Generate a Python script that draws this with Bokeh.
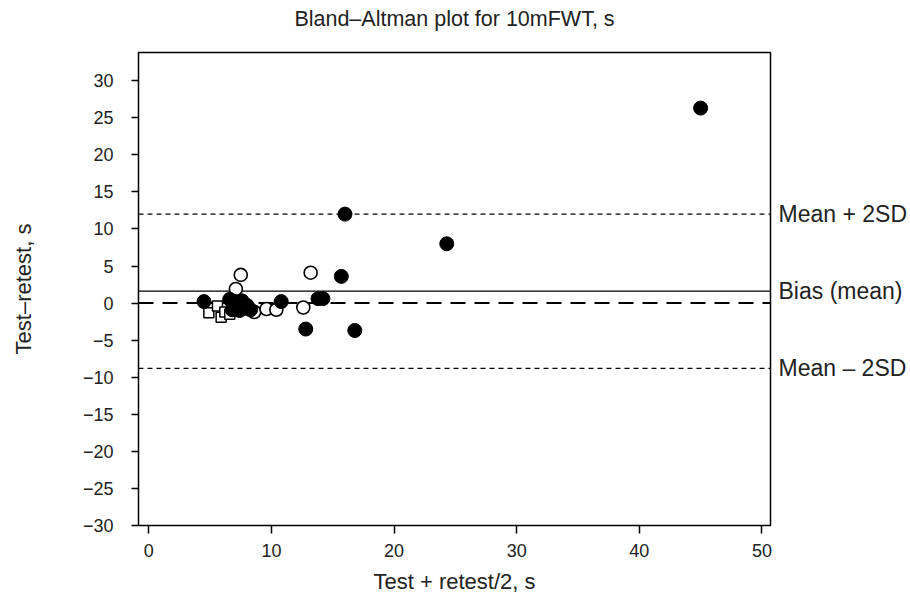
from bokeh.plotting import figure
from bokeh.models import Range1d, FixedTicker, Span, LinearAxis
from bokeh.embed import file_html
from bokeh.resources import INLINE

# ---- data ----
filled_x = [45.0, 16.0, 24.3, 15.7, 13.8, 14.2, 12.8, 16.8, 10.8, 4.5,
            6.6, 7.0, 7.3, 7.6, 7.9, 8.3, 6.8, 7.4, 8.0]
filled_y = [26.3, 12.0, 8.0, 3.6, 0.6, 0.6, -3.5, -3.7, 0.2, 0.2,
            0.5, 0.2, -0.5, 0.3, -0.7, -0.9, -0.9, -1.0, -0.3]
open_x = [7.5, 7.1, 8.6, 9.6, 10.4, 12.6, 13.2]
open_y = [3.8, 1.9, -1.2, -0.8, -0.9, -0.6, 4.1]
square_x = [4.9, 5.6, 5.9, 6.2, 6.6]
square_y = [-1.3, -0.4, -1.9, -1.2, -1.5]

upper_loa = 12.0
bias = 1.6
lower_loa = -8.8
zero_line = 0.0

line_names = ["Mean + 2SD", "Bias (mean)", "Mean \u2013 2SD"]
line_values = [upper_loa, bias, lower_loa]

x_ticks = [0, 10, 20, 30, 40, 50]
y_ticks = [-30, -25, -20, -15, -10, -5, 0, 5, 10, 15, 20, 25, 30]

title_text = "Bland\u2013Altman plot for 10mFWT, s"

FONT = "Liberation Sans"
TXT = "#222222"

p = figure(width=910, height=596, output_backend="svg", toolbar_location=None,
           x_range=Range1d(-0.84, 50.7), y_range=Range1d(-30, 33.8),
           min_border_left=138, min_border_right=140,
           min_border_top=52, min_border_bottom=71)

p.xgrid.visible = False
p.ygrid.visible = False
p.outline_line_color = "black"
p.outline_line_width = 1.5
p.background_fill_color = "white"
p.border_fill_color = "white"

for ax in (p.xaxis[0], p.yaxis[0]):
    ax.axis_line_color = None
    ax.major_tick_in = 0
    ax.major_tick_out = 8
    ax.major_tick_line_color = "black"
    ax.major_tick_line_width = 1.5
    ax.minor_tick_line_color = None
    ax.major_label_text_font = FONT
    ax.major_label_text_font_size = "18px"
    ax.major_label_text_color = TXT
    ax.axis_label_text_font = FONT
    ax.axis_label_text_font_size = "22px"
    ax.axis_label_text_font_style = "normal"
    ax.axis_label_text_color = TXT

p.xaxis[0].ticker = FixedTicker(ticks=x_ticks)
p.yaxis[0].ticker = FixedTicker(ticks=y_ticks)
p.yaxis[0].major_tick_out = 7
p.yaxis[0].major_label_standoff = 18
p.xaxis[0].major_label_standoff = 10
p.xaxis[0].axis_label = "Test + retest/2, s"
p.yaxis[0].axis_label = "Test\u2013retest, s"
p.xaxis[0].axis_label_standoff = 9
p.yaxis[0].axis_label_standoff = 44
p.yaxis[0].major_label_overrides = {t: (str(t) if t >= 0 else "\u2212" + str(-t)) for t in y_ticks}

# chart title, carried by a bare axis above the frame
taxis = LinearAxis(ticker=FixedTicker(ticks=[]), axis_label=title_text,
                   axis_line_color=None, major_tick_line_color=None,
                   minor_tick_line_color=None, major_tick_out=0, major_tick_in=0,
                   major_label_standoff=0, axis_label_standoff=22,
                   axis_label_text_font=FONT, axis_label_text_font_size="21.5px",
                   axis_label_text_font_style="normal", axis_label_text_color=TXT)
p.add_layout(taxis, "above")

# right-side names of the reference lines
raxis = LinearAxis(ticker=FixedTicker(ticks=line_values),
                   major_label_overrides=dict(zip(line_values, line_names)),
                   axis_line_color=None, major_tick_line_color=None,
                   major_tick_out=0, major_tick_in=0,
                   minor_tick_line_color=None, major_label_standoff=8,
                   major_label_text_font=FONT, major_label_text_font_size="23px",
                   major_label_text_color=TXT)
p.add_layout(raxis, "right")

# reference lines
p.add_layout(Span(location=upper_loa, dimension="width", line_color="black",
                  line_width=1.3, line_dash="5 4", level="underlay"))
p.add_layout(Span(location=lower_loa, dimension="width", line_color="black",
                  line_width=1.3, line_dash="5 4", level="underlay"))
p.add_layout(Span(location=bias, dimension="width", line_color="black",
                  line_width=1.3, level="underlay"))
p.add_layout(Span(location=zero_line, dimension="width", line_color="black",
                  line_width=2, line_dash="15 9", level="underlay"))

# markers
p.scatter(square_x, square_y, marker="square", size=10, fill_color="white",
          line_color="black", line_width=1.5)
p.scatter(open_x, open_y, marker="circle", size=13, fill_color="white",
          line_color="black", line_width=1.6)
p.scatter(filled_x, filled_y, marker="circle", size=14, fill_color="black",
          line_color="black")

open("out.html", "w").write(file_html(p, INLINE))
